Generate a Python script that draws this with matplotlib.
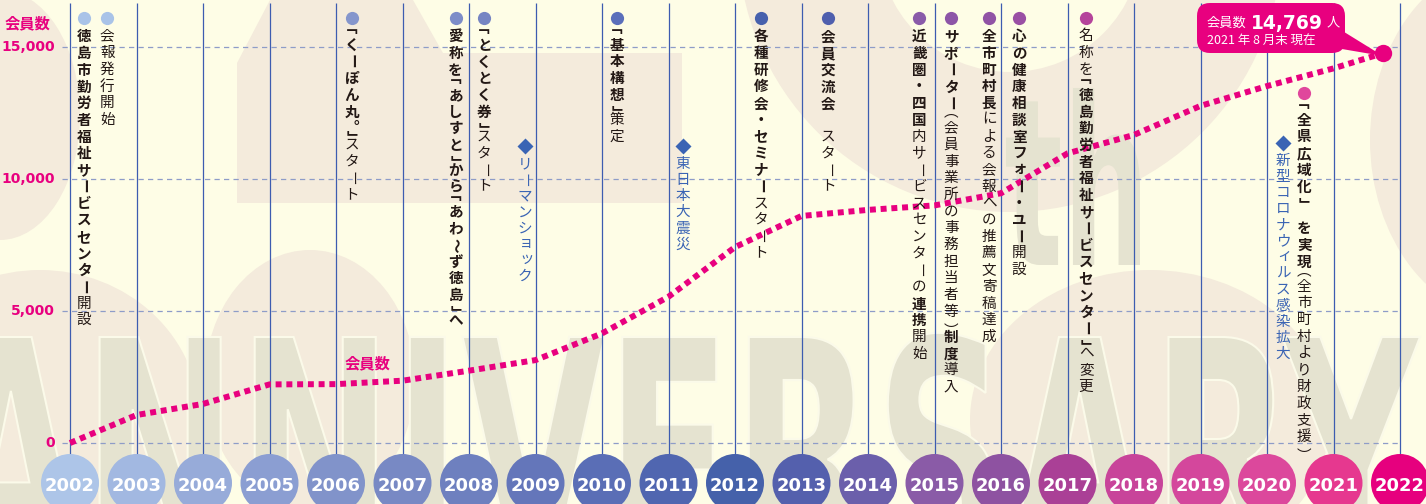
import numpy as np
import matplotlib.pyplot as plt
from matplotlib.transforms import Affine2D, blended_transform_factory
from matplotlib.patches import Ellipse, Polygon, Wedge, FancyBboxPatch, PathPatch
from matplotlib.textpath import TextPath
from matplotlib.font_manager import FontProperties

# --- data ---------------------------------------------------------------
years = list(range(2002, 2023))
members = [0, 1060, 1480, 2220, 2230, 2360, 2740, 3140, 4150, 5540, 7420,
           8600, 8830, 9000, 9460, 10970, 11670, 12770, 13520, 14190]  # 2002-2021
latest_x = 2021.75          # 2021年8月末
latest_value = 14769
yticks = [0, 5000, 10000, 15000]
ytick_labels = ["0", "5,000", "10,000", "15,000"]
year_colors = ["#adc5e8", "#a2b8e1", "#97abd9", "#8b9ed2", "#8193ca", "#7889c4",
               "#6e80bf", "#6476ba", "#5a6eb6", "#5066b0", "#4561aa", "#5460ad",
               "#6b5fab", "#8a5ba7", "#8e52a1", "#aa4096", "#c8449a", "#d4479c",
               "#dc489c", "#e6388f", "#e6007e"]

# (x in years, y of marker in px from top, kind, marker colour, [(text, bold)])
BLUE = "#3a64b4"
events = [
    (2002.21, 18, "dot", "#a9c3e8", [("徳島市勤労者福祉サービスセンター", True), ("開設", False)]),
    (2002.56, 18, "dot", "#a9c3e8", [("会報発行開始", False)]),
    (2006.24, 18, "dot", "#8596cc", [("「くーぽん丸。」", True), ("スタート", False)]),
    (2007.80, 18, "dot", "#7d8dc8", [("愛称を「あしすと」から「あわ〜ず徳島」へ", True)]),
    (2008.23, 18, "dot", "#7685c3", [("「とくとく券」", True), ("スタート", False)]),
    (2008.84, 146, "diamond", BLUE, [("リーマンショック", False)]),
    (2010.23, 18, "dot", "#5b6fbb", [("「基本構想」", True), ("策定", False)]),
    (2011.22, 146, "diamond", BLUE, [("東日本大震災", False)]),
    (2012.39, 18, "dot", "#4660ad", [("各種研修会・セミナー", True), ("スタート", False)]),
    (2013.40, 18, "dot", "#4f5fae", [("会員交流会", True), ("　スタート", False)]),
    (2014.77, 18, "dot", "#8a5ba9", [("近畿圏・四国", True), ("内サービスセンターの", False),
                                     ("連携", True), ("開始", False)]),
    (2015.25, 18, "dot", "#8d55a7", [("サポーター", True), ("（会員事業所の事務担当者等）", False),
                                     ("制度", True), ("導入", False)]),
    (2015.82, 18, "dot", "#9153a5", [("全市町村長", True), ("による会報への推薦文寄稿達成", False)]),
    (2016.27, 18, "dot", "#9a4fa4", [("心の健康相談室フォー・ユー", True), ("開設", False)]),
    (2017.28, 18, "dot", "#b5449b", [("名称を", False), ("「徳島勤労者福祉サービスセンター」", True),
                                     ("へ変更", False)]),
    (2020.24, 143, "diamond", BLUE, [("新型コロナウィルス感染拡大", False)]),
    (2020.56, 93, "dot", "#e0479c", [("「全県広域化」", True), ("　を実現", True),
                                     ("（全市町村より財政支援）", False)]),
]

# --- style --------------------------------------------------------------
W, H = 1426, 504
BG = "#fefde6"
BEIGE = "#f4ebdc"
GRAYL = "#e5e3d0"
MAG = "#e8007f"
INK = "#231815"
CJK = ["Noto Sans CJK JP", "DejaVu Sans"]

fig = plt.figure(figsize=(W / 100, H / 100), dpi=100, facecolor=BG)
ax = fig.add_axes([0, 0, 1, 1])
ax.set_axis_off()
px_per_year = 66.5
px_per_member = 132 / 5000
ax.set_xlim(2002 - 70 / px_per_year, 2002 + (W - 70) / px_per_year)
ax.set_ylim(-(H - 443) / px_per_member, 443 / px_per_member)

# pixel transform (y from top) and blended year/pixel transform
pix = Affine2D().scale(1 / W, -1 / H).translate(0, 1) + fig.transFigure
tr = blended_transform_factory(ax.transData, pix)


def year_px(x):
    return 70 + (x - 2002) * px_per_year


# --- background decoration ---------------------------------------------
for p in [Ellipse((0, 115), 160, 250),
          Polygon([(237, 203), (237, 63), (270, 0), (413, 0), (443, 53), (682, 53), (682, 203)]),
          Wedge((1010, -60), 272, 0, 360, width=140),
          Ellipse((1510, 140), 280, 360),
          Ellipse((310, 380), 210, 260),
          Ellipse((40, 420), 320, 300),
          Ellipse((1150, 420), 360, 300)]:
    p.set_transform(pix)
    p.set_facecolor(BEIGE)
    p.set_edgecolor("none")
    p.set_zorder(0.2)
    ax.add_patch(p)

fp = FontProperties(family="DejaVu Sans", weight="bold")
tp = TextPath((0, 0), "ANNIVERSARY", size=1, prop=fp)
bb = tp.get_extents()
sx = 1480 / bb.width
sy = 230 / 0.729
ax.add_patch(PathPatch(tp, transform=Affine2D().scale(sx, -sy).translate(-60 - bb.x0 * sx, 567) + pix,
                       fc=GRAYL, ec="#fbfae9", lw=1.5, zorder=0.3))
tp2 = TextPath((0, 0), "th", size=1, prop=fp)
bb2 = tp2.get_extents()
sx2 = 134 / bb2.width
ax.add_patch(PathPatch(tp2, transform=Affine2D().scale(sx2, -233).translate(1006 - bb2.x0 * sx2, 265) + pix,
                       fc=GRAYL, ec="none", zorder=0.3))

# --- grid ----------------------------------------------------------------
ax.hlines(yticks, 2002 - 8 / px_per_year, 2022, colors="#8e9cc8", lw=0.9,
          linestyles=(0, (4.2, 3.4)), zorder=1)
ax.vlines(years, -(455 - 443) / px_per_member, (443 - 3) / px_per_member,
          colors="#3d5cb0", lw=0.9, zorder=1.5)

for v, lab in zip(yticks, ytick_labels):
    ax.text(2002 - 15 / px_per_year, v, lab, ha="right", va="center", fontsize=10,
            fontweight="bold", color=MAG, family="DejaVu Sans", zorder=5)
ax.text(5, 23, "会員数", transform=pix, ha="left", va="center", fontsize=11,
        fontweight="bold", color=MAG, family=CJK, zorder=5)

# --- member line ---------------------------------------------------------
line_x = years[:-1] + [latest_x]
line_y = members + [latest_value]
ax.plot(line_x, line_y, color=MAG, lw=4.3, linestyle=(0, (1, 0.8)),
        dash_capstyle="butt", zorder=3)
ax.plot([latest_x], [latest_value], "o", color=MAG, ms=12.5, mec="none", zorder=3.5)
ax.text(2006.48, 3030, "会員数", ha="center", va="center", fontsize=11,
        fontweight="bold", color=MAG, family=CJK, zorder=5)

# callout
ax.add_patch(Polygon([(1328, 22), (1336, 48), (1383, 56)], transform=pix, fc=MAG, ec="none", zorder=4))
ax.add_patch(FancyBboxPatch((1197, 3), 148, 50, boxstyle="round,pad=0,rounding_size=13",
                            transform=pix, fc=MAG, ec="none", zorder=4))
ax.text(1207, 23, "会員数", transform=pix, ha="left", va="center", fontsize=9.5,
        color="white", family=CJK, zorder=5)
ax.text(1251, 23, f"{latest_value:,}", transform=pix, ha="left", va="center", fontsize=13.5,
        fontweight="bold", color="white", family="DejaVu Sans", zorder=5)
ax.text(1327, 23, "人", transform=pix, ha="left", va="center", fontsize=9.5,
        color="white", family=CJK, zorder=5)
ax.text(1207, 41, "2021 年 8 月末 現在", transform=pix, ha="left", va="center", fontsize=9,
        color="white", family=CJK, zorder=5)

# --- year circles ---------------------------------------------------------
circle_y = -(483 - 443) / px_per_member
ax.scatter(years, [circle_y] * len(years), s=1744, c=year_colors, edgecolors="none", zorder=4)
for yr in years:
    ax.text(yr, 491, str(yr), transform=tr, ha="center", va="baseline", fontsize=13,
            fontweight="bold", color="white", family="DejaVu Sans", zorder=5)

# --- vertical event texts --------------------------------------------------
ROT = "ー〜"
VERT = {"「": "\ufe41", "」": "\ufe42", "（": "\ufe35", "）": "\ufe36"}
HALF = "「」（）。"
SMALL = "ッョィォャュァ"
FS = 10.5
FS_PX = FS * 100 / 72


def ink_text(ch, xc, yc, bold, color):
    # place a glyph so that its ink is centred on (xc, yc) in pixels
    prop = FontProperties(family="Noto Sans CJK JP", weight="bold" if bold else "normal")
    e = TextPath((0, 0), ch, size=FS_PX, prop=prop).get_extents()
    cx, cy = (e.x0 + e.x1) / 2, (e.y0 + e.y1) / 2
    ax.text(xc - cx, yc + cy, ch, transform=pix, ha="left", va="baseline",
            fontsize=FS, fontweight="bold" if bold else "normal",
            color=color, family=CJK, zorder=5)


def vtext(x, ytop, segments, color, pitch):
    xp = year_px(x)
    y = ytop
    for txt, bold in segments:
        for ch in txt:
            step = pitch * (0.5 if ch in HALF else 1.0)
            yc = y + step / 2
            if ch in VERT:
                ink_text(VERT[ch], xp, yc, bold, color)
            elif ch == "。":
                ink_text(ch, xp + 4, yc - 1, bold, color)
            elif ch != "　":
                dx, dy = (1.5, -1.5) if ch in SMALL else (0, 0)
                ax.text(xp + dx, yc + dy, ch, transform=pix, ha="center", va="center",
                        rotation=-90 if ch in ROT else 0, fontsize=FS,
                        fontweight="bold" if bold else "normal", color=color,
                        family=CJK, zorder=5)
            y += step


for x, ym, kind, col, segs in events:
    if kind == "dot":
        ax.plot([x], [ym], "o", transform=tr, color=col, ms=9.5, mec="none", zorder=5)
        vtext(x, ym + 10, segs, INK, 16.7)
    else:
        ax.plot([x], [ym], "D", transform=tr, color=col, ms=8, mec="none", zorder=5)
        vtext(x, ym + 10, segs, BLUE, 16.1)

fig.savefig("out.png", dpi=100, facecolor=BG)
